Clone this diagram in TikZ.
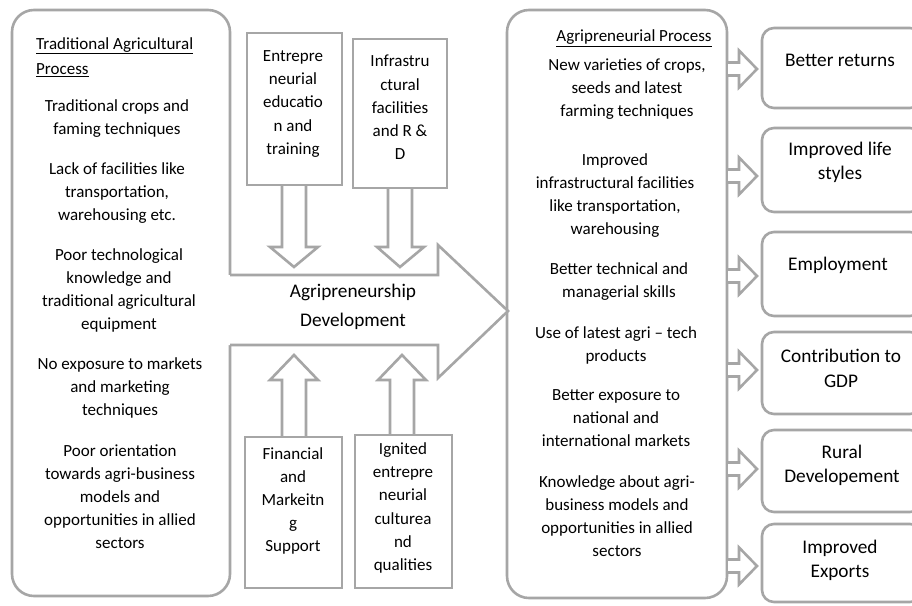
\documentclass[tikz,border=0pt]{standalone}
\usepackage{fontspec}
\setmainfont{Carlito}
\definecolor{edge}{HTML}{A6A6A6}
\tikzset{
  boxline/.style={draw=edge, line width=2.6pt},
  bigbox/.style={boxline, rounded corners=22pt},
  resbox/.style={boxline, rounded corners=12pt},
  arrowline/.style={draw=edge, line width=2.6pt, line join=miter},
  para/.style={align=center, inner sep=0pt, font=\fontsize{17}{23}\selectfont},
  smalltxt/.style={align=center, inner sep=0pt, font=\fontsize{17}{23.2}\selectfont},
  restxt/.style={align=center, inner sep=0pt, font=\fontsize{19.3}{24.5}\selectfont},
  midtxt/.style={align=center, inner sep=0pt, font=\fontsize{19.3}{29}\selectfont},
}
\newcommand{\rarrow}[1]{%
  \fill[white] (728,#1-6.5) -- (739,#1-6.5) -- (739,#1-18.5) -- (757,#1) -- (739,#1+18.5) -- (739,#1+6.5) -- (728,#1+6.5) -- cycle;
  \draw[arrowline] (728,#1-6.5) -- (739,#1-6.5) -- (739,#1-18.5) -- (757,#1) -- (739,#1+18.5) -- (739,#1+6.5) -- (728,#1+6.5);
}
\begin{document}
\begin{tikzpicture}[x=1pt,y=-1pt]
\useasboundingbox (0,0) rectangle (912,605);
\fill[white] (0,0) rectangle (912,605);

% main boxes
\draw[bigbox] (12,10) rectangle (230,596);
\draw[bigbox] (507,10) rectangle (727,598);

% left texts
\node[anchor=west, inner sep=0pt, align=left, font=\fontsize{17}{25}\selectfont] (lhead) at (36,57)
  {\underline{Traditional Agricultural}\\\underline{Process}};
\node[para] (l1) at (117,119) {Traditional crops and\\faming techniques};
\node[para] (l2) at (117,193) {Lack of facilities like\\transportation,\\warehousing etc.};
\node[para] (l3) at (119,290) {Poor technological\\knowledge and\\traditional agricultural\\equipment};
\node[para] (l4) at (120,388) {No exposure to markets\\and marketing\\techniques};
\node[para] (l5) at (120,497) {Poor orientation\\towards agri-business\\models and\\opportunities in allied\\sectors};

% right texts
\node[anchor=center, inner sep=0pt, font=\fontsize{17}{23}\selectfont] (rhead) at (634,38) {\underline{Agripreneurial Process}};
\node[para] (r1) at (627,89) {New varieties of crops,\\seeds and latest\\farming techniques};
\node[para] (r2) at (615,196) {Improved\\infrastructural facilities\\like transportation,\\warehousing};
\node[para] (r3) at (619,281.5) {Better technical and\\managerial skills};
\node[para] (r4) at (616,345) {Use of latest agri -- tech\\products};
\node[para] (r5) at (616,418) {Better exposure to\\national and\\international markets};
\node[para] (r6) at (617,516) {Knowledge about agri-\\business models and\\opportunities in allied\\sectors};

% big arrow
\fill[white] (228,275) -- (438,275) -- (438,245) -- (508,311) -- (438,378) -- (438,345) -- (228,345) -- cycle;
\draw[arrowline] (230,275) -- (438,275) -- (438,245) -- (508,311) -- (438,378) -- (438,345) -- (230,345);
\node[midtxt] (mid) at (353,307) {Agripreneurship\\Development};

% top small boxes
\draw[boxline] (247,33) rectangle (342,185);
\draw[boxline] (353,39) rectangle (447,188);
\node[smalltxt] (ta) at (293,104) {Entrepre\\neurial\\educatio\\n and\\training};
\node[smalltxt] (tb) at (400,107.5) {Infrastru\\ctural\\facilities\\and R \&\\D};
\draw[arrowline] (282,186) -- (282,247) -- (270,247) -- (294,267) -- (318,247) -- (306,247) -- (306,186);
\draw[arrowline] (388,189) -- (388,247) -- (377,247) -- (400,267) -- (424,247) -- (412,247) -- (412,189);

% bottom small boxes
\draw[boxline] (245,437) rectangle (342,588);
\draw[boxline] (355,435) rectangle (452,588);
\node[smalltxt] (bc) at (293,501) {Financial\\and\\Markeitn\\g\\Support};
\node[smalltxt] (bd) at (403,508) {Ignited\\entrepre\\neurial\\culturea\\nd\\qualities};
\draw[arrowline] (282,436) -- (282,380) -- (270,380) -- (294,355) -- (318,380) -- (306,380) -- (306,436);
\draw[arrowline] (390,434) -- (390,380) -- (378,380) -- (402,355) -- (426,380) -- (414,380) -- (414,434);

% result arrows
\rarrow{69}
\rarrow{176}
\rarrow{276}
\rarrow{370}
\rarrow{469}
\rarrow{566}

% result boxes
\draw[resbox] (762,28) rectangle (922,108);
\draw[resbox] (762,128) rectangle (922,212);
\draw[resbox] (762,232) rectangle (922,316);
\draw[resbox] (762,332) rectangle (922,414);
\draw[resbox] (762,430) rectangle (922,512);
\draw[resbox] (762,524) rectangle (922,602);
\node[restxt] (o1) at (840,60) {Better returns};
\node[restxt] (o2) at (840,162.5) {Improved life\\styles};
\node[restxt] (o3) at (838,265) {Employment};
\node[restxt] (o4) at (841,368.5) {Contribution to\\GDP};
\node[restxt] (o5) at (842,465.5) {Rural\\Developement};
\node[restxt] (o6) at (840,560.5) {Improved\\Exports};
\end{tikzpicture}
\end{document}
